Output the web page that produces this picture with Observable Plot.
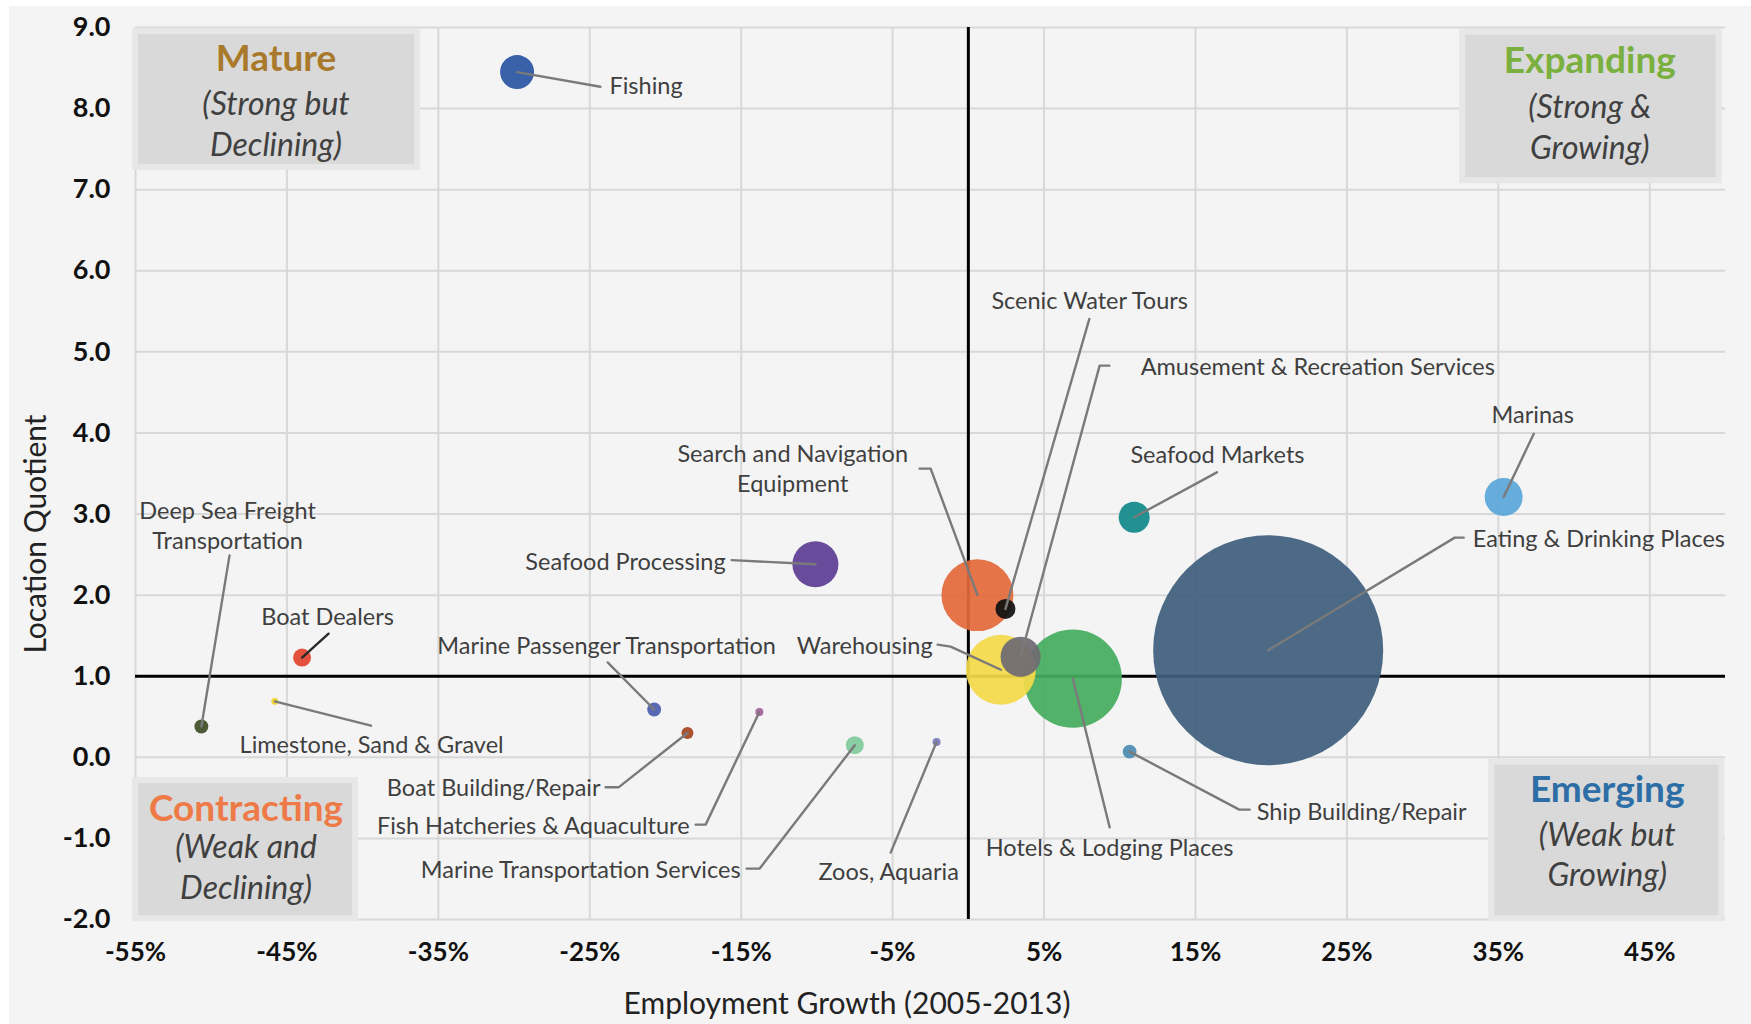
<!DOCTYPE html>
<html><head><meta charset="utf-8">
<script src="https://cdn.jsdelivr.net/npm/d3@7"></script>
<script src="https://cdn.jsdelivr.net/npm/@observablehq/plot@0.6"></script>
<style>
html,body{margin:0;padding:0;background:#fff;}
#chart{position:absolute;left:9px;top:6px;width:1742px;height:1018px;background:#f4f4f4;}
#chart svg{display:block;}
</style></head><body><div id="chart"></div>
<script>
// ---- Data ----
const industries = ["Fishing","Deep Sea Freight Transportation","Boat Dealers","Limestone, Sand & Gravel","Marine Passenger Transportation","Boat Building/Repair","Fish Hatcheries & Aquaculture","Marine Transportation Services","Zoos, Aquaria","Seafood Processing","Search and Navigation Equipment","Scenic Water Tours","Warehousing","Amusement & Recreation Services","Hotels & Lodging Places","Seafood Markets","Eating & Drinking Places","Ship Building/Repair","Marinas"];
const growth = [-29.8,-50.65,-44.0,-45.8,-20.75,-18.55,-13.8,-7.5,-2.1,-10.1,0.6,2.45,2.15,3.45,6.9,10.95,19.8,10.65,35.35];
const lq = [8.45,0.38,1.23,0.69,0.59,0.30,0.56,0.15,0.19,2.38,2.0,1.83,1.08,1.24,0.97,2.96,1.32,0.07,3.21];
const employment = [720,120,200,30,120,90,40,200,40,1320,3230,250,3060,1000,6000,600,33000,120,900];
const colors = ["#2a55a3","#3e4d26","#e2452f","#f0d326","#4c5fae","#a4441f","#a2619c","#80c99b","#7b79b9","#5c3d93","#e3693b","#111111","#f3d94a","#6e6b72","#45ac5e","#11898a","#3e5f7c","#4b8cb3","#5aa7d9"];

// labels (annotation positions in data units)
const labelText = ["Fishing","Deep Sea Freight\nTransportation","Boat Dealers","Limestone, Sand & Gravel","Marine Passenger Transportation","Boat Building/Repair","Fish Hatcheries & Aquaculture","Marine Transportation Services","Zoos, Aquaria","Seafood Processing","Search and Navigation\nEquipment","Scenic Water Tours","Warehousing","Amusement & Recreation Services","Hotels & Lodging Places","Seafood Markets","Eating & Drinking Places","Ship Building/Repair","Marinas"];
const labelX = [-23.7,-48.92,-42.32,-39.41,-23.89,-24.29,-18.41,-15.04,-5.26,-16.03,-11.6,8.01,-2.36,11.38,9.33,16.45,33.31,19.04,37.27];
const labelY = [8.3,2.87,1.747,0.174,1.39,-0.36,-0.83,-1.372,-1.397,2.432,3.572,5.644,1.39,4.83,-1.107,3.748,2.709,-0.652,4.238];
const labelAnchor = ["start","middle","middle","middle","middle","end","end","end","middle","end","middle","middle","end","start","middle","middle","start","start","middle"];
const leaderPts = [
  [[-24.3,8.27]],
  [[-48.79,2.49]],
  [[-42.25,1.525]],
  [[-39.45,0.39]],
  [[-23.82,1.17]],
  [[-23.96,-0.37],[-23.10,-0.37]],
  [[-18.01,-0.83],[-17.35,-0.83]],
  [[-14.64,-1.372],[-13.78,-1.372]],
  [[-5.13,-1.175]],
  [[-15.63,2.432]],
  [[-3.22,3.56],[-2.49,3.56]],
  [[7.99,5.406]],
  [[-2.03,1.39],[-1.17,1.365]],
  [[9.31,4.83],[8.67,4.83]],
  [[9.33,-0.863]],
  [[16.41,3.514]],
  [[32.71,2.709],[32.12,2.709]],
  [[18.58,-0.645],[17.89,-0.645]],
  [[37.34,3.99]]
];

// quadrant boxes
const quadTitle = ["Mature","Expanding","Emerging","Contracting"];
const quadSub = ["(Strong but\nDeclining)","(Strong &\nGrowing)","(Weak but\nGrowing)","(Weak and\nDeclining)"];
const quadColor = ["#a97a2c","#7ab03e","#2e6ea6","#ee7a48"];
const quadX1 = [-55,32.64,34.56,-55];
const quadX2 = [-36.37,49.58,49.76,-40.47];
const quadY1 = [7.275,7.11,-1.99,-1.99];
const quadY2 = [8.95,8.94,-0.06,-0.287];
const quadTextX = [-45.72,41.04,42.19,-47.70];
const quadTitleY = [8.615,8.59,-0.411,-0.635];
const quadSubY = [7.83,7.795,-1.182,-1.335];

const xTicks = [-55,-45,-35,-25,-15,-5,5,15,25,35,45];
const yTicks = [-2,-1,0,1,2,3,4,5,6,7,8,9];

// ---- Build ----
const rows = industries.map((name,i)=>({name, growth:growth[i], lq:lq[i], emp:employment[i], color:colors[i]}));
const sorted = rows.slice().sort((a,b)=>b.emp-a.emp);
const labels = industries.map((name,i)=>({name, text:labelText[i], x:labelX[i], y:labelY[i], anchor:labelAnchor[i]}));
const leaders = industries.flatMap((name,i)=>[...leaderPts[i].map(([x,y])=>({name,x,y})), {name, x:growth[i], y:lq[i]}]);
const quads = quadTitle.map((t,i)=>({title:t, sub:quadSub[i], color:quadColor[i], x1:quadX1[i], x2:quadX2[i], y1:quadY1[i], y2:quadY2[i], tx:quadTextX[i], ty:quadTitleY[i], sy:quadSubY[i]}));

const FONT = "Lato, 'Open Sans', sans-serif";
const LBL = 23.5;
const labelMarks = ["start","middle","end"].map(a => Plot.text(labels.filter(d=>d.anchor===a), {
  x:"x", y:"y", text:"text", textAnchor:a, lineAnchor:"middle", lineHeight:1.25,
  fontSize:LBL, fill:"#3f3f3f", fontFamily:FONT
}));

const chart = Plot.plot({
  width:1742, height:1018,
  marginLeft:126, marginRight:26, marginTop:21, marginBottom:105,
  style:{background:"transparent", fontFamily:FONT, overflow:"visible"},
  x:{domain:[-55,50]},
  y:{domain:[-2,9]},
  r:{type:"sqrt", domain:[0,33000], range:[0,115]},
  color:{type:"identity"},
  marks:[
    Plot.gridX(xTicks, {stroke:"#d8d8d8", strokeOpacity:1, strokeWidth:2}),
    Plot.gridY(yTicks, {stroke:"#d8d8d8", strokeOpacity:1, strokeWidth:2}),
    Plot.rect(quads, {x1:"x1", x2:"x2", y1:"y1", y2:"y2", fill:"#d9d9d9", stroke:"#e7e7e7", strokeWidth:6}),
    Plot.text(quads, {x:"tx", y:"ty", text:"title", fill:"color", fontWeight:"bold", fontSize:37, fontFamily:FONT, lineAnchor:"middle"}),
    Plot.text(quads, {x:"tx", y:"sy", text:"sub", fill:"#404040", fontStyle:"italic", fontSize:32, fontFamily:FONT, lineAnchor:"middle", lineHeight:1.27}),
    Plot.ruleX([0], {stroke:"#000", strokeWidth:3}),
    Plot.ruleY([1], {stroke:"#000", strokeWidth:3}),
    Plot.dot(sorted, {x:"growth", y:"lq", r:"emp", fill:"color", fillOpacity:0.93, stroke:null}),
    Plot.line(leaders, {x:"x", y:"y", z:"name", stroke:d=>d.name==="Boat Dealers"?"#2a2a2a":"#7a7a7a", strokeWidth:2.4}),
    ...labelMarks,
    Plot.axisX(xTicks, {tickSize:0, tickPadding:23, tickFormat:d=>d+"%", fontSize:26, fontWeight:"bold", fill:"#111", label:null}),
    Plot.axisY(yTicks, {tickSize:0, tickPadding:25, tickFormat:d=>d.toFixed(1), fontSize:27, fontWeight:"bold", fill:"#111", label:null}),
    Plot.text(["Employment Growth (2005-2013)"], {text:d=>d, frameAnchor:"bottom", dx:-83.5, dy:85, fontSize:30, fill:"#222", fontFamily:FONT, lineAnchor:"middle"})
  ]
});
// y-axis title
d3.select(chart).append("text")
  .attr("transform", "translate(24.5,528) rotate(-90)")
  .attr("text-anchor", "middle")
  .attr("dominant-baseline", "central")
  .attr("font-family", FONT)
  .attr("font-size", 30)
  .attr("fill", "#222")
  .text("Location Quotient");
document.getElementById("chart").appendChild(chart);
</script>
</body></html>
